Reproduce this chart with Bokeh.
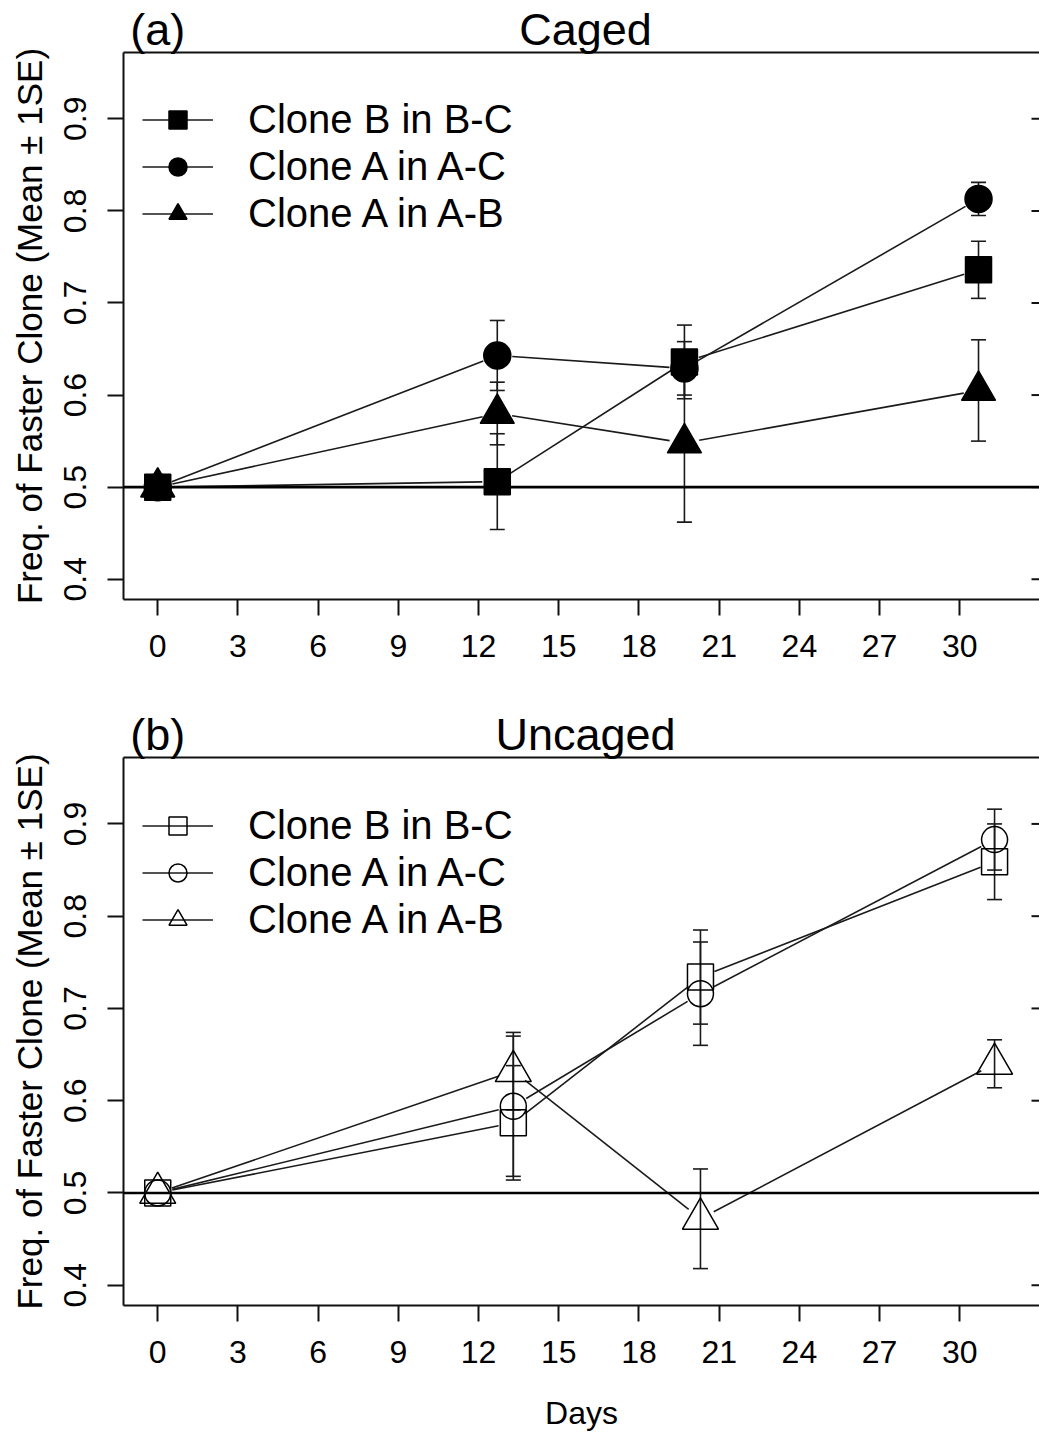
import math
from bokeh.plotting import figure
from bokeh.models import (ColumnDataSource, Span, Whisker, TeeHead, Legend,
                          LegendItem, FixedTicker, Range1d, LinearAxis)
from bokeh.layouts import column
from bokeh.embed import file_html
from bokeh.resources import INLINE

FONT = "Liberation Sans"

# ---------------- data ----------------
series_labels = ["Clone B in B-C", "Clone A in A-C", "Clone A in A-B"]
x_ticks = [0, 3, 6, 9, 12, 15, 18, 21, 24, 27, 30]
y_ticks = [0.4, 0.5, 0.6, 0.7, 0.8, 0.9]
y_label = "Freq. of Faster Clone (Mean \u00b1 1SE)"

days_caged = [0, 12.7, 19.7, 30.7]
caged_B_BC = [0.5, 0.506, 0.636, 0.736]
caged_B_BC_se = [0.0, 0.052, 0.040, 0.031]
caged_A_AC = [0.5, 0.643, 0.629, 0.813]
caged_A_AC_se = [0.0, 0.038, 0.029, 0.018]
caged_A_AB = [0.5, 0.580, 0.548, 0.605]
caged_A_AB_se = [0.0, 0.034, 0.086, 0.055]

days_uncaged = [0, 13.3, 20.3, 31.3]
uncaged_B_BC = [0.5, 0.576, 0.734, 0.859]
uncaged_B_BC_se = [0.0, 0.062, 0.051, 0.041]
uncaged_A_AC = [0.5, 0.594, 0.716, 0.883]
uncaged_A_AC_se = [0.0, 0.076, 0.056, 0.033]
uncaged_A_AB = [0.5, 0.632, 0.472, 0.640]
uncaged_A_AB_se = [0.0, 0.042, 0.054, 0.026]

ref_level = 0.5

# ---------------- geometry ----------------
W = 1039
LEFT = 123
FRAME_H = 548
FULL_FRAME_W = 924
X_LIM = (0, 32)
Y_LIM = (0.4, 0.95)


def ext(lim):
    d = (lim[1] - lim[0]) * 0.04
    return lim[0] - d, lim[1] + d


xlo, xhi = ext(X_LIM)
ylo, yhi = ext(Y_LIM)
VIS_FRAME_W = W - LEFT
x_end = xlo + (xhi - xlo) * VIS_FRAME_W / FULL_FRAME_W
px_x = FULL_FRAME_W / (xhi - xlo)
px_y = FRAME_H / (yhi - ylo)
title_x = round((xlo + xhi) / 2)
tag_x = X_LIM[0]


def gapped(xs, ys, gap):
    x0, y0, x1, y1 = [], [], [], []
    for i in range(len(xs) - 1):
        dx = (xs[i + 1] - xs[i]) * px_x
        dy = (ys[i + 1] - ys[i]) * px_y
        L = math.hypot(dx, dy)
        if L <= 2 * gap:
            continue
        f = gap / L
        x0.append(xs[i] + (xs[i + 1] - xs[i]) * f)
        y0.append(ys[i] + (ys[i + 1] - ys[i]) * f)
        x1.append(xs[i + 1] - (xs[i + 1] - xs[i]) * f)
        y1.append(ys[i + 1] - (ys[i + 1] - ys[i]) * f)
    return x0, y0, x1, y1


def make_panel(days, means_list, se_list, filled, tag, title, height, top, bottom, xlabel=None):
    p = figure(width=W, height=height, x_range=Range1d(xlo, x_end), y_range=Range1d(ylo, yhi),
               output_backend="svg", toolbar_location=None,
               min_border_left=LEFT, min_border_right=0,
               min_border_top=top, min_border_bottom=bottom)
    p.outline_line_color = None
    p.grid.visible = False
    p.background_fill_color = "white"
    p.border_fill_color = "white"

    for ax in (p.xaxis[0], p.yaxis[0]):
        ax.axis_line_color = "#111111"
        ax.axis_line_width = 2
        ax.major_tick_line_color = "#111111"
        ax.major_tick_line_width = 2
        ax.major_tick_out = 16
        ax.major_tick_in = 0
        ax.minor_tick_line_color = None
        ax.major_label_text_font = FONT
        ax.major_label_text_font_size = "32px"
        ax.major_label_text_color = "black"
        ax.axis_label_text_font = FONT
        ax.axis_label_text_font_style = "normal"
        ax.axis_label_text_color = "black"
    p.xaxis.axis_label_text_font_size = "32px"
    p.yaxis.axis_label_text_font_size = "35px"
    p.xaxis.ticker = FixedTicker(ticks=x_ticks)
    p.yaxis.ticker = FixedTicker(ticks=y_ticks)
    p.yaxis.major_label_orientation = "vertical"
    p.yaxis.major_label_standoff = 21
    p.xaxis.major_label_standoff = 19
    p.yaxis.axis_label = y_label
    p.yaxis.axis_label_standoff = 13
    if xlabel:
        p.xaxis.axis_label = xlabel
        p.xaxis.axis_label_standoff = 29

    # top edge of the box carrying the panel tag and title
    top_ax = LinearAxis(ticker=FixedTicker(ticks=[tag_x, title_x]),
                        major_label_overrides={tag_x: tag, title_x: title},
                        axis_line_color="#111111", axis_line_width=2,
                        major_tick_line_color=None, major_tick_out=0, major_tick_in=0,
                        minor_tick_line_color=None, major_label_standoff=-2,
                        major_label_text_font=FONT, major_label_text_font_size="45px",
                        major_label_text_color="black")
    p.add_layout(top_ax, "above")

    # right-side ticks of the box (box edge lies just beyond the page)
    n = len(y_ticks)
    p.segment(x0=[xhi - 16 / px_x] * n, y0=y_ticks, x1=[x_end] * n, y1=y_ticks,
              line_color="#111111", line_width=2)
    # reference line
    p.add_layout(Span(location=ref_level, dimension="width", line_color="black", line_width=2.6))

    markers = ["square", "circle", "triangle"]
    sizes = [26, 27, 34] if filled else [26, 26, 36]
    items = []
    for k in range(3):
        m = means_list[k]
        s = se_list[k]
        x0, y0, x1, y1 = gapped(days, m, 15)
        lr = p.segment(x0=x0, y0=y0, x1=x1, y1=y1, line_color="#1a1a1a", line_width=1.6)
        src = ColumnDataSource(dict(x=days, y=m,
                                    lo=[a - b for a, b in zip(m, s)],
                                    hi=[a + b for a, b in zip(m, s)]))
        w = Whisker(source=src, base="x", upper="hi", lower="lo", dimension="height",
                    line_color="#1a1a1a", line_width=1.6,
                    upper_head=TeeHead(size=15, line_width=1.6, line_color="#1a1a1a"),
                    lower_head=TeeHead(size=15, line_width=1.6, line_color="#1a1a1a"))
        p.add_layout(w)
        sr = p.scatter("x", "y", source=src, marker=markers[k], size=sizes[k],
                       fill_color="black" if filled else None,
                       line_color="black", line_width=1.5)
        items.append(LegendItem(label=series_labels[k], renderers=[lr, sr]))

    legend = Legend(items=items, location=(19, 363), padding=0, margin=0, spacing=2,
                    glyph_height=45, glyph_width=71, label_height=45, label_standoff=35,
                    label_text_font=FONT, label_text_font_size="40px",
                    label_text_color="black", border_line_color=None,
                    background_fill_alpha=0)
    p.add_layout(legend)
    return p


pa = make_panel(days_caged,
                [caged_B_BC, caged_A_AC, caged_A_AB],
                [caged_B_BC_se, caged_A_AC_se, caged_A_AB_se],
                True, "(a)", "Caged", 679, 51, 80)
pb = make_panel(days_uncaged,
                [uncaged_B_BC, uncaged_A_AC, uncaged_A_AB],
                [uncaged_B_BC_se, uncaged_A_AC_se, uncaged_A_AB_se],
                False, "(b)", "Uncaged", 754, 78, 128, xlabel="Days")

layout = column(pa, pb, spacing=0)
open("out.html", "w").write(file_html(layout, INLINE))
